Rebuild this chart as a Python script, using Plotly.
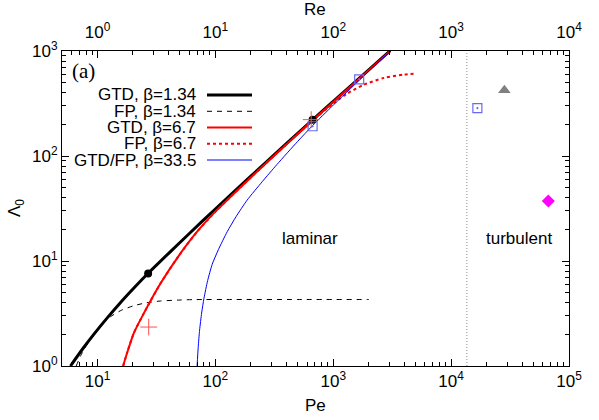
import math
import plotly.graph_objects as go

# ---------------- data ----------------
gtd134_pe = [5.9, 7.5, 9.3, 12, 15.7, 20, 26.9, 41.6, 61.4, 100, 200, 400, 668, 1200, 2000, 3020]
gtd134_l  = [1.0, 1.46, 2.0, 2.84, 4.03, 5.41, 7.64, 12.3, 18.7, 31.3, 64.3, 131, 221, 397, 662, 1000]

fp134_pe = [6.6, 7.2, 8, 9, 10, 11, 12.9, 16, 20.3, 26, 34.2, 50, 65.6, 150, 500, 2000]
fp134_l  = [1.0, 1.25, 1.55, 1.87, 2.2, 2.5, 2.95, 3.4, 3.75, 4.0, 4.16, 4.25, 4.29, 4.3, 4.3, 4.3]

gtd67_pe = [16.5, 17.9, 20.3, 24.7, 34.2, 48.9, 70, 100, 200, 400, 668, 1200, 2000, 3050]
gtd67_l  = [1.0, 1.35, 2.05, 3.17, 6.1, 11.2, 19.0, 29.5, 62.5, 129, 219, 393, 655, 1000]

fp67_pe = [16.5, 17.9, 20.3, 24.7, 34.2, 48.9, 70, 100, 200, 400, 668, 1000, 1300, 1800, 2700, 4000, 5000]
fp67_l  = [1.0, 1.35, 2.05, 3.17, 6.1, 11.2, 19.0, 29.5, 62.5, 129, 218, 315, 390, 475, 555, 598, 608]

gtd335_pe = [70, 71.5, 73.5, 76.5, 80, 86, 94, 106, 126, 150, 186, 250, 333, 500, 668, 1000, 1660, 2400, 3100]
gtd335_l  = [1.0, 1.5, 2.2, 3.2, 4.4, 6.5, 9.3, 12.8, 19, 26.5, 38, 57, 83, 138, 195, 305, 525, 780, 1000]

dot_pe = [26.9, 668]
dot_l  = [7.59, 222]
plus_pe = [27.2, 650]
plus_l  = [2.35, 222]
sq_pe = [668, 1660, 16700]
sq_l  = [192, 537, 286]
tri_pe = [28300]
tri_l  = [423]
dia_pe = [66800]
dia_l  = [37.3]

transition_pe = 13600

pe_ticks = [10, 100, 1000, 10000, 100000]
pe_ticktext = ["10<sup>1</sup>", "10<sup>2</sup>", "10<sup>3</sup>", "10<sup>4</sup>", "10<sup>5</sup>"]
re_ticks = [1, 10, 100, 1000, 10000]
re_ticktext = ["10<sup>0</sup>", "10<sup>1</sup>", "10<sup>2</sup>", "10<sup>3</sup>", "10<sup>4</sup>"]
l_ticks = [1, 10, 100, 1000]
l_ticktext = ["10<sup>0</sup>", "10<sup>1</sup>", "10<sup>2</sup>", "10<sup>3</sup>"]

legend_labels = ["GTD, \u03b2=1.34", "FP, \u03b2=1.34", "GTD, \u03b2=6.7", "FP, \u03b2=6.7", "GTD/FP, \u03b2=33.5"]

# ---------------- styling ----------------
FONT = "Liberation Sans, Arial, sans-serif"
FS = 17
W, H = 599, 420
# plot frame in page pixels
FX0, FX1, FY0, FY1 = 62, 569, 51, 366
L, R, T, B = FX0, W - FX1, FY0, H - FY1
PW, PH = FX1 - FX0, FY1 - FY0

styles = [
    dict(color="black", width=3, dash="solid"),
    dict(color="black", width=1, dash="5px,5px"),
    dict(color="#ff0000", width=2, dash="solid"),
    dict(color="#ff0000", width=2, dash="3px,3px"),
    dict(color="#0000ff", width=1, dash="solid"),
]
series = [(gtd134_pe, gtd134_l), (fp134_pe, fp134_l), (gtd67_pe, gtd67_l),
          (fp67_pe, fp67_l), (gtd335_pe, gtd335_l)]

fig = go.Figure()
for (xs, ys), st in zip(series, styles):
    fig.add_trace(go.Scatter(x=xs, y=ys, mode="lines", line=dict(shape="spline", smoothing=0.6, **st),
                             showlegend=False, hoverinfo="skip"))

fig.add_trace(go.Scatter(x=[transition_pe, transition_pe], y=[1, 1000], mode="lines",
                         line=dict(color="#888888", width=1, dash="1px,2px"), showlegend=False))

fig.add_trace(go.Scatter(x=dot_pe, y=dot_l, mode="markers",
                         marker=dict(symbol="circle", size=8, color="black"), showlegend=False))
fig.add_trace(go.Scatter(x=plus_pe, y=plus_l, mode="markers",
                         marker=dict(symbol="cross-thin", size=12, line=dict(color="#ff5050", width=1)),
                         showlegend=False))
fig.add_trace(go.Scatter(x=sq_pe, y=sq_l, mode="markers",
                         marker=dict(symbol="square-open-dot", size=9, color="#6a6aee",
                                     line=dict(width=1.2)), showlegend=False))
fig.add_trace(go.Scatter(x=tri_pe, y=tri_l, mode="markers",
                         marker=dict(symbol="triangle-up", size=11, color="#808080"), showlegend=False))
fig.add_trace(go.Scatter(x=dia_pe, y=dia_l, mode="markers",
                         marker=dict(symbol="diamond", size=10, color="#ff00ff"), showlegend=False))

# invisible trace to carry the top (Re) axis
fig.add_trace(go.Scatter(x=[1], y=[1], xaxis="x2", mode="markers", marker=dict(opacity=0),
                         showlegend=False, hoverinfo="skip"))

def px2paper(px, py):
    return (px - FX0) / PW, (FY1 - py) / PH

annotations = []
shapes = []
# custom legend (text right aligned, sample line to the right)
rows_y = [95, 111.3, 127.5, 143.8, 160]
for lab, st, py in zip(legend_labels, styles, rows_y):
    tx, ty = px2paper(197, py)
    annotations.append(dict(x=tx, y=ty, xref="paper", yref="paper", text=lab, showarrow=False,
                            xanchor="right", yanchor="middle", borderpad=0,
                            font=dict(family=FONT, size=FS, color="black")))
    x0, _ = px2paper(207, py)
    x1, _ = px2paper(252, py)
    shapes.append(dict(type="line", xref="paper", yref="paper", x0=x0, x1=x1, y0=ty, y1=ty,
                       line=dict(color=st["color"], width=st["width"], dash=st["dash"])))

def txt(px, py, s, size=FS, family=FONT, angle=0):
    x, y = px2paper(px, py)
    annotations.append(dict(x=x, y=y, xref="paper", yref="paper", text=s, showarrow=False,
                            xanchor="center", yanchor="middle", textangle=angle, borderpad=0,
                            font=dict(family=family, size=size, color="black")))

txt(83, 71, "(a)", size=21, family="Liberation Serif, Times New Roman, serif")
txt(315, 9, "Re")
txt(315, 405, "Pe")
txt(16, 208, "\u039b<sub>0</sub>", angle=-90)

annotations.append(dict(x=math.log10(638), y=math.log10(16.4), xref="x", yref="y", text="laminar",
                        showarrow=False, font=dict(family=FONT, size=FS, color="black")))
annotations.append(dict(x=math.log10(37700), y=math.log10(16.4), xref="x", yref="y", text="turbulent",
                        showarrow=False, font=dict(family=FONT, size=FS, color="black")))

minor_pe = [m * 10 ** e for e in range(0, 5) for m in range(2, 10)]
minor_re = [m * 10 ** e for e in range(-1, 4) for m in range(2, 10)]
minor_l = [m * 10 ** e for e in range(0, 3) for m in range(2, 10)]

axis_common = dict(type="log", showgrid=False, zeroline=False, showline=True, linecolor="black",
                   linewidth=1, ticks="inside", ticklen=7, tickcolor="black", automargin=False,
                   tickfont=dict(family=FONT, size=FS, color="black"))

fig.update_layout(
    width=W, height=H,
    margin=dict(l=L, r=R, t=T, b=B, autoexpand=False),
    paper_bgcolor="white", plot_bgcolor="white",
    showlegend=False,
    font=dict(family=FONT, size=FS, color="black"),
    xaxis=dict(range=[math.log10(5), 5], tickmode="array", tickvals=pe_ticks, ticktext=pe_ticktext,
               minor=dict(tickmode="array", tickvals=minor_pe, ticks="inside", ticklen=4, tickcolor="black"),
               **axis_common),
    xaxis2=dict(overlaying="x", side="top", range=[math.log10(0.5), 4], tickmode="array",
                tickvals=re_ticks, ticktext=re_ticktext, ticklabelstandoff=5,
                minor=dict(tickmode="array", tickvals=minor_re, ticks="inside", ticklen=4, tickcolor="black"),
                **axis_common),
    yaxis=dict(range=[0, 3], tickmode="array", tickvals=l_ticks, ticktext=l_ticktext, mirror="ticks",
               minor=dict(tickmode="array", tickvals=minor_l, ticks="inside", ticklen=4, tickcolor="black"),
               **axis_common),
    annotations=annotations,
    shapes=shapes,
)

# remove the default 8px body margin of the page so the figure sits at the window origin
fig.write_html("out.html", config={"displayModeBar": False},
               post_script="document.body.style.margin='0px';")
